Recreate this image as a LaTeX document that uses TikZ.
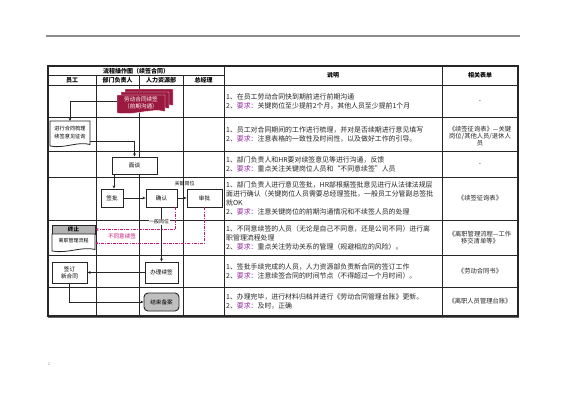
\documentclass[tikz,border=0pt]{standalone}
\usepackage{fontspec}
\setmainfont{Noto Sans CJK SC}
\usetikzlibrary{arrows.meta}
\definecolor{docred}{RGB}{155,25,65}
\definecolor{reqc}{RGB}{150,40,160}
\definecolor{nog}{RGB}{200,20,120}
\newcommand\reqt{\textcolor{reqc}{要求：}}
\newcommand\docshape[5]{\draw[#1] (#2,#3) -- (#4,#3) -- (#4,{#5-1.5}) .. controls ({#4-0.3*(#4-#2)},{#5-5}) and ({#2+0.35*(#4-#2)},{#5+3}) .. (#2,#5) -- cycle;}
\begin{document}
\begin{tikzpicture}[x=1pt,y=-1pt,
 tline/.style={draw=black!85, line width=0.7pt},
 box/.style={draw=black!85, line width=0.9pt, fill=white, inner sep=0pt, font=\fontsize{5.6}{7}\selectfont, align=center},
 arr/.style={draw=black!85, line width=0.7pt, -{Stealth[length=3.2pt,width=2.8pt]}},
 nogo/.style={draw=nog, line width=1pt, dash pattern=on 3pt off 1.2pt on 0.8pt off 1.2pt, -{Stealth[length=3.2pt,width=2.8pt]}},
 desc/.style={anchor=west, align=left, inner sep=0pt, font=\fontsize{6.9}{9}\selectfont, text=black!85},
 form/.style={align=center, inner sep=0pt, font=\fontsize{6.3}{7.4}\selectfont, text=black!85},
 hdr/.style={inner sep=0pt, font=\fontsize{6}{7}\selectfont\bfseries},
 lbl/.style={inner sep=0.5pt, font=\fontsize{5}{6}\selectfont}
]
\useasboundingbox (0,0) rectangle (565,400);
\fill[white] (0,0) rectangle (565,400);
% top rule
\draw[black!45, line width=1.2pt] (46,36) -- (520,36);
% table
\draw[tline] (48,75) -- (224,75);
\foreach \xx in {96,139,183} \draw[tline] (\xx,75) -- (\xx,316);
\foreach \yy in {85,117,151,177,220,255,287} \draw[tline] (48,\yy) -- (518,\yy);
\draw[tline] (224,66) -- (224,316);
\draw[tline] (442,66) -- (442,316);
\draw[draw=black!85, line width=1.3pt] (48,66) rectangle (518,316);
\draw[black!60, line width=1.2pt] (48,317.6) -- (519,317.6);
% headers
\node[hdr] (h0) at (136,70.8) {流程操作图（续签合同）};
\node[hdr] (h1) at (72,80.2) {员工};
\node[hdr] (h2) at (117.5,80.2) {部门负责人};
\node[hdr] (h3) at (161,80.2) {人力资源部};
\node[hdr] (h4) at (203.5,80.2) {总经理};
\node[hdr] (h5) at (333,75.5) {说明};
\node[hdr] (h6) at (480,75.5) {相关表单};
% flow: red multi document
\docshape{fill=docred, draw=white, line width=0.4pt}{125}{89}{173}{107}
\docshape{fill=docred, draw=white, line width=0.4pt}{121}{92}{169}{110}
\docshape{fill=docred, draw=white, line width=0.4pt}{117}{95}{165}{113}
\node[text=white, font=\fontsize{5.6}{7}\selectfont, align=center, inner sep=0pt] (ldoc) at (141,103) {劳动合同续签\\（前期沟通）};
\coordinate (ldocW) at (117,101);
% employee document
\docshape{draw=black!85, line width=0.8pt, fill=white}{50}{121}{90}{146}
\node[font=\fontsize{5.2}{7.5}\selectfont, align=center, inner sep=0pt] (sg) at (70,132.5) {进行合同梳理\\续签意见征询};
\coordinate (sgT) at (70,121);
\coordinate (sgR) at (90,141);
\draw[arr] (ldocW) -| (sgT);
% interview
\node[box, minimum width=45, minimum height=17] (mt) at (134.5,165.5) {面谈};
\draw[arr] (sgR) -| (mt.north);
% approvals
\node[box, minimum width=22, minimum height=18] (qp) at (112,198) {签批};
\node[box, minimum width=31, minimum height=18] (qr) at (161.5,198) {确认};
\node[box, minimum width=35, minimum height=18] (sp) at (204.5,198) {审批};
\coordinate (qpt) at ([xshift=2pt]qp.north);
\draw[arr] (mt.south -| qpt) -- (qpt);
\draw[arr] (qp) -- (qr);
\draw[arr] (qr) -- (sp);
\node[lbl] (kg) at (184.5,184) {关键岗位};
% terminate
\node[box, fill=black!30, minimum width=43, minimum height=9, font=\fontsize{5.6}{7}\selectfont\bfseries] (zz) at (73.5,229.5) {终止};
\docshape{draw=black!85, line width=0.8pt, fill=white}{52}{234}{95}{251}
\node[lbl] (lz) at (73.5,241) {离职管理流程};
\coordinate (lzR) at (95,243);
\coordinate (qrb) at ([xshift=-2pt]qr.south east);
\draw[nogo] (qrb) |- (zz.east);
\draw[nogo] (sp.south) |- (lzR);
\node[lbl, text=nog, font=\fontsize{5.6}{6}\selectfont] (bty) at (122,236.5) {不同意续签};
% renew
\node[box, minimum width=33, minimum height=21] (bl) at (161.5,272.5) {办理续签};
\draw[arr] (qr.south) -- (bl.north);
\node[lbl, fill=white] (yb) at (159,222) {一般岗位};
\node[box, minimum width=35, minimum height=21] (qd) at (69.5,272.5) {签订\\新合同};
\draw[arr] (bl) -- (qd);
\node[box, fill=black!25, rounded corners=4pt, minimum width=35, minimum height=18] (js) at (161.5,302) {结束备案};
\draw[arr] (qd.south) |- (js.west);
% descriptions
\node[desc] (d1) at (226,101.5) {1、在员工劳动合同快到期前进行前期沟通\\2、\reqt 关键岗位至少提前2个月，其他人员至少提前1个月};
\node[desc] (d2) at (226,134.5) {1、员工对合同期间的工作进行梳理，并对是否续期进行意见填写\\2、\reqt 注意表格的一致性及时间性，以及做好工作的引导。};
\node[desc] (d3) at (226,164.5) {1、部门负责人和HR要对续签意见等进行沟通，反馈\\2、\reqt 重点关注关键岗位人员和“不同意续签”人员};
\node[desc] (d4) at (226,198.5) {1、部门负责人进行意见签批，HR部根据签批意见进行从法律法规层\\面进行确认（关键岗位人员需要总经理签批，一般员工分管副总签批\\就OK\\2、\reqt 注意关键岗位的前期沟通情况和不续签人员的处理};
\node[desc] (d5) at (226,237.5) {1、不同意续签的人员（无论是自己不同意，还是公司不同）进行离\\职管理流程处理\\2、\reqt 重点关注劳动关系的管理（规避相应的风险）。};
\node[desc] (d6) at (226,271) {1、签批手续完成的人员，人力资源部负责新合同的签订工作\\2、\reqt 注意续签合同的时间节点（不得超过一个月时间）。};
\node[desc] (d7) at (226,301.5) {1、办理完毕，进行材料归档并进行《劳动合同管理台账》更新。\\2、\reqt 及时，正确};
% forms
\node[form] (f1) at (480,101.5) {-};
\node[form] (f2) at (480,136) {《续签征询表》—关键\\岗位/其他人员/退休人\\员};
\node[form] (f3) at (480,164.5) {-};
\node[form] (f4) at (480,198.5) {《续签征询表》};
\node[form] (f5) at (480,237.5) {《离职管理流程—工作\\移交清单等》};
\node[form] (f6) at (480,271) {《劳动合同书》};
\node[form] (f7) at (480,301.5) {《离职人员管理台账》};
\node[font=\fontsize{4}{4}\selectfont, text=black!40, inner sep=0pt] (pg) at (49,364) {2};
\end{tikzpicture}
\end{document}
